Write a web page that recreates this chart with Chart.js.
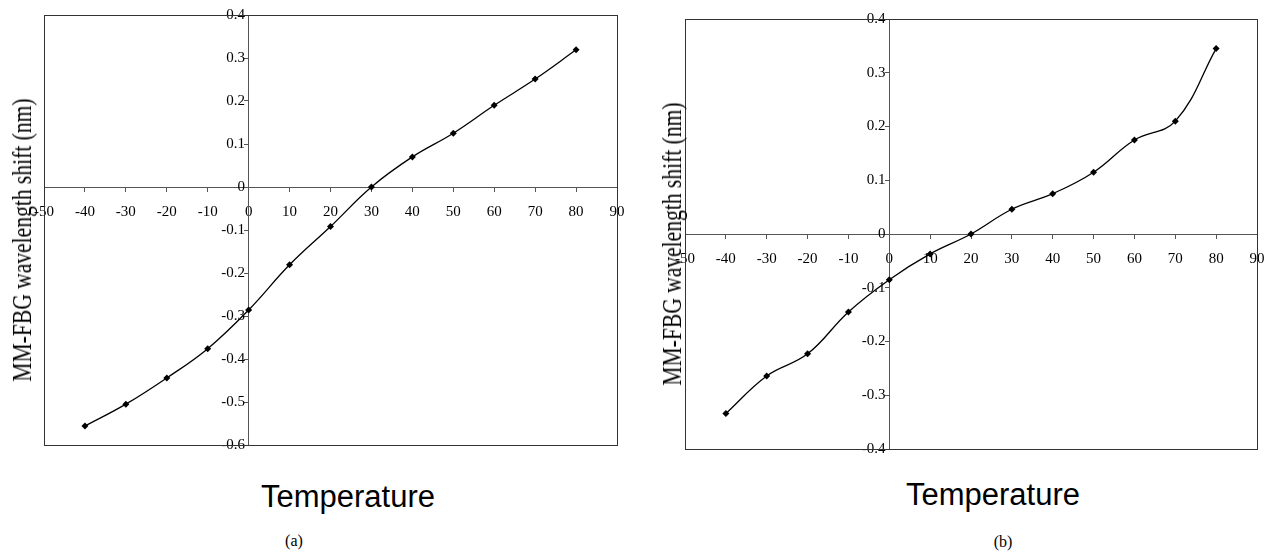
<!DOCTYPE html>
<html>
<head>
<meta charset="utf-8">
<script src="https://cdn.jsdelivr.net/npm/chart.js@4.4.0/dist/chart.umd.min.js"></script>
<style>
  html, body { margin: 0; padding: 0; background: #fff; }
  body { width: 1266px; height: 552px; position: relative; overflow: hidden; }
  .box { position: absolute; top: 0; height: 470px; }
  .ytitle {
    position: absolute; white-space: nowrap;
    font-family: "Liberation Serif", "Times New Roman", serif; font-size: 28px; line-height: 28px;
    transform: translate(-50%, -50%) rotate(-90deg) scaleX(0.77);
  }
  .xtitle {
    position: absolute; white-space: nowrap; transform: translateX(-50%);
    font-family: "Liberation Sans", Arial, sans-serif; font-size: 31px; line-height: 31px;
  }
  .caption {
    position: absolute; white-space: nowrap; transform: translateX(-50%);
    font-family: "Liberation Serif", "Times New Roman", serif; font-size: 16px; line-height: 16px;
  }
</style>
</head>
<body>
<div class="box" style="left:0; width:637px"><canvas id="chartA"></canvas></div>
<div class="box" style="left:633px; width:644px"><canvas id="chartB"></canvas></div>

<div class="ytitle" style="left:22px; top:240px">MM-FBG wavelength shift (nm)</div>
<div class="ytitle" style="left:672px; top:244px">MM-FBG wavelength shift (nm)</div>
<div class="xtitle" style="left:348px; top:481px">Temperature</div>
<div class="xtitle" style="left:993px; top:479px">Temperature</div>
<div class="caption" style="left:294px; top:533px">(a)</div>
<div class="caption" style="left:1003px; top:534px">(b)</div>

<script>
// Data
const temps = [-40, -30, -20, -10, 0, 10, 20, 30, 40, 50, 60, 70, 80];
const shiftA = [-0.556, -0.505, -0.444, -0.376, -0.286, -0.181, -0.092, 0, 0.070, 0.125, 0.190, 0.251, 0.319];
const shiftB = [-0.334, -0.264, -0.223, -0.145, -0.085, -0.037, 0, 0.046, 0.075, 0.115, 0.175, 0.210, 0.345];

// Axis ticks
const xTicks = [-50, -40, -30, -20, -10, 0, 10, 20, 30, 40, 50, 60, 70, 80, 90];
const yTicksA = [0.4, 0.3, 0.2, 0.1, 0, -0.1, -0.2, -0.3, -0.4, -0.5, -0.6];
const yTicksB = [0.4, 0.3, 0.2, 0.1, 0, -0.1, -0.2, -0.3, -0.4];

const tickFont = { family: '"Liberation Serif", "Times New Roman", serif', size: 15 };

// Frame around the plot area
const frame = {
  id: 'frame',
  beforeDatasetsDraw(chart) {
    const { ctx, chartArea: a } = chart;
    ctx.save();
    ctx.strokeStyle = '#333';
    ctx.lineWidth = 1;
    ctx.strokeRect(Math.round(a.left) + 0.5, Math.round(a.top) + 0.5,
      Math.round(a.right - a.left), Math.round(a.bottom - a.top));
    ctx.restore();
  },
};

function makeChart(id, values, yTicks, padding) {
  const ctx = document.getElementById(id).getContext('2d');
  return new Chart(ctx, {
    type: 'line',
    data: {
      datasets: [{
        data: temps.map((t, i) => ({ x: t, y: values[i] })),
        borderColor: '#000',
        backgroundColor: '#000',
        borderWidth: 1.3,
        tension: 0.4,
        pointStyle: 'rectRot',
        pointRadius: 3.5,
        pointBorderWidth: 0,
        clip: false,
      }],
    },
    options: {
      responsive: true,
      maintainAspectRatio: false,
      animation: false,
      layout: { padding },
      plugins: {
        legend: { display: false },
        tooltip: { enabled: false },
      },
      scales: {
        x: {
          type: 'linear',
          position: { y: 0 },
          min: xTicks[0],
          max: xTicks[xTicks.length - 1],
          afterBuildTicks: (s) => { s.ticks = xTicks.map((v) => ({ value: v })); },
          border: { display: true, color: '#555', width: 1 },
          grid: { display: true, drawOnChartArea: false, drawTicks: true, tickLength: 4, color: '#555' },
          ticks: {
            color: '#000', font: tickFont, padding: 12,
            autoSkip: false, maxRotation: 0,
            callback: (v) => String(v),
          },
        },
        y: {
          type: 'linear',
          position: { x: 0 },
          min: yTicks[yTicks.length - 1],
          max: yTicks[0],
          afterBuildTicks: (s) => { s.ticks = yTicks.map((v) => ({ value: v })); },
          border: { display: true, color: '#555', width: 1 },
          grid: { display: true, drawOnChartArea: false, drawTicks: true, tickLength: 4, color: '#555' },
          ticks: {
            color: '#000', font: tickFont, autoSkip: false,
            callback: (v) => String(Math.round(v * 10) / 10) + ' ',
          },
        },
      },
    },
    plugins: [frame],
  });
}

makeChart('chartA', shiftA, yTicksA, { left: 44, top: 15, right: 20, bottom: 25 });
makeChart('chartB', shiftB, yTicksB, { left: 52, top: 19, right: 20, bottom: 21 });
</script>
</body>
</html>
